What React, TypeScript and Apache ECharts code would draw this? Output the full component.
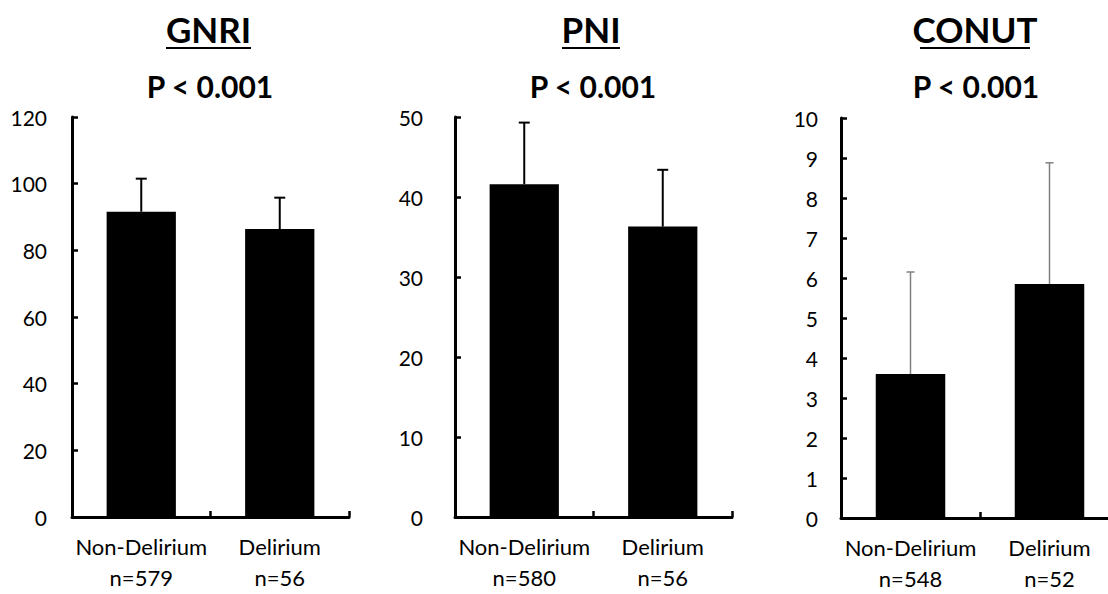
import React, { useEffect, useRef } from "react";
import * as echarts from "echarts";

const gnriCategories = ["Non-Delirium\nn=579", "Delirium\nn=56"];
const gnriMean = [91.6, 86.4];
const gnriSD = [9.9, 9.4];
const gnriTicks = { min: 0, max: 120, interval: 20 };

const pniCategories = ["Non-Delirium\nn=580", "Delirium\nn=56"];
const pniMean = [41.6, 36.3];
const pniSD = [7.7, 7.1];
const pniTicks = { min: 0, max: 50, interval: 10 };

const conutCategories = ["Non-Delirium\nn=548", "Delirium\nn=52"];
const conutMean = [3.6, 5.85];
const conutSD = [2.55, 3.03];
const conutTicks = { min: 0, max: 10, interval: 1 };

const titles = ["GNRI", "PNI", "CONUT"];
const pValues = ["P < 0.001", "P < 0.001", "P < 0.001"];

const FONT = "Lato";

export default function App() {
  const ref = useRef<HTMLDivElement>(null);
  useEffect(() => {
    if (!ref.current) return;
    const chart = echarts.init(ref.current, null, { renderer: "svg" });

    const panels = [
      { cats: gnriCategories, mean: gnriMean, sd: gnriSD, ticks: gnriTicks, left: 72, top: 117, width: 277, labelMargin: 25, errColor: "#000", errWidth: 2, cap: 11 },
      { cats: pniCategories, mean: pniMean, sd: pniSD, ticks: pniTicks, left: 455, top: 117, width: 277, labelMargin: 32, errColor: "#000", errWidth: 2, cap: 11 },
      { cats: conutCategories, mean: conutMean, sd: conutSD, ticks: conutTicks, left: 841, top: 118, width: 278, labelMargin: 23, errColor: "#808080", errWidth: 1.5, cap: 8 },
    ];
    const titleX = [208.5, 591, 975];
    const pX = [210, 593, 976];
    const underline = [[166, 251], [562, 620], [920, 1030]];

    const grid = panels.map((p) => ({ left: p.left, top: p.top, width: p.width, height: 400, outerBoundsMode: "none", containLabel: false }));
    const xAxis = panels.map((p, i) => ({
      type: "category",
      gridIndex: i,
      data: p.cats,
      axisLine: { lineStyle: { color: "#000", width: 3 } },
      axisTick: { show: true, inside: true, length: 6, lineStyle: { color: "#000", width: 2.5 } },
      axisLabel: { interval: 0, color: "#000", fontFamily: FONT, fontSize: 22, lineHeight: 31, margin: 14, align: "center" },
      splitLine: { show: false },
    }));
    const yAxis = panels.map((p, i) => ({
      type: "value",
      gridIndex: i,
      min: p.ticks.min,
      max: p.ticks.max,
      interval: p.ticks.interval,
      axisLine: { show: true, lineStyle: { color: "#000", width: 3 } },
      axisTick: { show: true, inside: true, length: 6, lineStyle: { color: "#000", width: 2.5 } },
      axisLabel: { color: "#000", fontFamily: FONT, fontSize: 21, margin: p.labelMargin },
      splitLine: { show: false },
    }));
    const series: any[] = [];
    panels.forEach((p, i) => {
      series.push({
        type: "bar",
        xAxisIndex: i,
        yAxisIndex: i,
        data: p.mean,
        barWidth: "50%",
        itemStyle: { color: "#000" },
        z: 2,
      });
      series.push({
        type: "custom",
        xAxisIndex: i,
        yAxisIndex: i,
        data: p.mean.map((m, k) => [k, m, p.sd[k]]),
        encode: { x: 0, y: 1 },
        z: 3,
        renderItem: (params: any, api: any) => {
          const x = api.value(0);
          const m = api.value(1);
          const s = api.value(2);
          const p0 = api.coord([x, m]);
          const p1 = api.coord([x, m + s]);
          const hw = p.cap / 2;
          const style = { stroke: p.errColor, lineWidth: p.errWidth };
          return {
            type: "group",
            children: [
              { type: "line", shape: { x1: p0[0], y1: p0[1], x2: p1[0], y2: p1[1] }, style },
              { type: "line", shape: { x1: p1[0] - hw, y1: p1[1], x2: p1[0] + hw, y2: p1[1] }, style },
            ],
          };
        },
      });
    });

    const graphic: any[] = [];
    titles.forEach((t, i) => {
      graphic.push({
        type: "text",
        x: titleX[i],
        y: 29,
        style: { text: t, fontFamily: FONT, fontWeight: "bold", fontSize: 35, fill: "#000", textAlign: "center", textVerticalAlign: "middle" },
      });
      graphic.push({
        type: "line",
        shape: { x1: underline[i][0], y1: 48, x2: underline[i][1], y2: 48 },
        style: { stroke: "#000", lineWidth: 2 },
      });
      graphic.push({
        type: "text",
        x: pX[i],
        y: 86,
        style: { text: pValues[i], fontFamily: FONT, fontWeight: "bold", fontSize: 30, fill: "#000", textAlign: "center", textVerticalAlign: "middle" },
      });
    });

    chart.setOption({
      animation: false,
      backgroundColor: "#fff",
      grid,
      xAxis,
      yAxis,
      series,
      graphic,
    });
    return () => chart.dispose();
  }, []);
  return <div ref={ref} style={{ position: "fixed", left: 0, top: 0, width: 1108, height: 594 }} />;
}
